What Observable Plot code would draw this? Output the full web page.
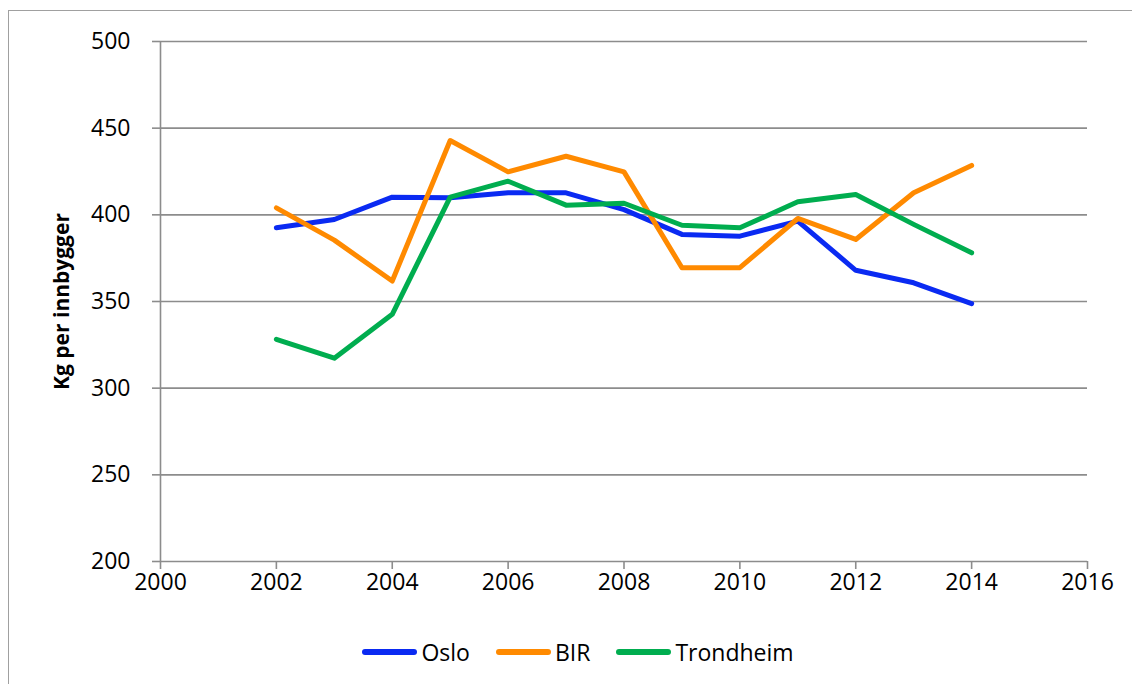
<!DOCTYPE html>
<html>
<head>
<meta charset="utf-8">
<script src="https://cdn.jsdelivr.net/npm/d3@7"></script>
<script src="https://cdn.jsdelivr.net/npm/@observablehq/plot@0.6"></script>
<style>
  html, body { margin: 0; padding: 0; background: #fff; overflow: hidden; }
  body { width: 1132px; height: 684px; position: relative; font-family: "Open Sans", sans-serif; }
  #frame { position: absolute; left: 8px; top: 10px; width: 1300px; height: 900px; border: 1px solid #a0a0a0; pointer-events: none; }
  #chart { position: absolute; left: 0; top: 0; }
  #legend { position: absolute; left: 0; top: 636px; width: 1132px; display: flex; justify-content: center; align-items: center; padding-left: 24px; box-sizing: border-box; font-size: 23px; color: #000; }
  .item { display: flex; align-items: center; margin: 0 13px; }
  .sw { width: 55px; height: 6px; border-radius: 3px; margin-right: 4px; }
  #chart [aria-label="y-axis label"], #chart [aria-label="y-axis label"] text { font-weight: bold; font-size: 21px; }
</style>
</head>
<body>
<div id="frame"></div>
<div id="chart"></div>
<div id="legend"></div>
<script>
const years = [2002, 2003, 2004, 2005, 2006, 2007, 2008, 2009, 2010, 2011, 2012, 2013, 2014];
const oslo = [392.5, 397.3, 410.2, 409.8, 412.7, 412.7, 403, 388.7, 387.7, 396.4, 368, 360.8, 348.8];
const bir = [404, 385.4, 361.8, 442.9, 424.8, 433.8, 424.8, 369.5, 369.5, 397.9, 385.8, 412.7, 428.5];
const trondheim = [328.2, 317.3, 342.6, 410.2, 419.4, 405.6, 406.7, 394, 392.5, 407.5, 411.7, 394.5, 378.1];
const seriesNames = ["Oslo", "BIR", "Trondheim"];
const seriesColors = ["#0a2af2", "#ff8a00", "#00ad4f"];
const xTicks = [2000, 2002, 2004, 2006, 2008, 2010, 2012, 2014, 2016];
const yTicks = [200, 250, 300, 350, 400, 450, 500];

const seriesValues = [oslo, bir, trondheim];
const data = [];
seriesNames.forEach((name, i) => {
  years.forEach((yr, j) => data.push({ series: name, year: yr, value: seriesValues[i][j] }));
});

const gridColor = "#8c8c8c";
const chart = Plot.plot({
  width: 1132,
  height: 610,
  marginLeft: 160,
  marginRight: 45,
  marginTop: 41,
  marginBottom: 49,
  style: { fontSize: "23px", fontFamily: "Open Sans", color: "#000", background: "transparent" },
  x: { domain: [2000, 2016] },
  y: { domain: [200, 500] },
  color: { domain: seriesNames, range: seriesColors },
  marks: [
    Plot.gridY(yTicks, { stroke: gridColor, strokeOpacity: 1, strokeWidth: 1.6 }),
    Plot.ruleX([2000], { stroke: gridColor, strokeWidth: 1.6 }),
    Plot.axisY(yTicks, {
      tickSize: 8, tickPadding: 22, stroke: gridColor, strokeOpacity: 1, strokeWidth: 1.6,
      label: null
    }),
    Plot.axisY({
      ticks: [], tickSize: 0, label: "Kg per innbygger", labelAnchor: "center", labelArrow: "none",
      labelOffset: 106, fontWeight: "bold", fontSize: 21
    }),
    Plot.axisX(xTicks, {
      tickSize: 8, tickPadding: 4, stroke: gridColor, strokeOpacity: 1, strokeWidth: 1.6,
      tickFormat: d => String(d), label: null
    }),
    Plot.line(data, {
      x: "year", y: "value", z: "series", stroke: "series",
      strokeWidth: 5, strokeLinecap: "round", strokeLinejoin: "round"
    })
  ]
});
document.getElementById("chart").appendChild(chart);

const legend = document.getElementById("legend");
seriesNames.forEach((name, i) => {
  const item = document.createElement("div");
  item.className = "item";
  const sw = document.createElement("div");
  sw.className = "sw";
  sw.style.background = seriesColors[i];
  const t = document.createElement("span");
  t.textContent = name;
  item.appendChild(sw);
  item.appendChild(t);
  legend.appendChild(item);
});
</script>
</body>
</html>
